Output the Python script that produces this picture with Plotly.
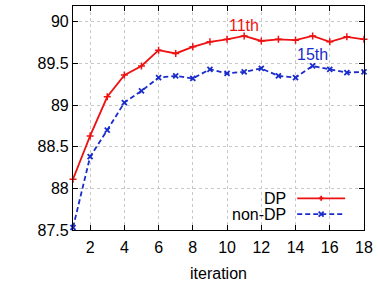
import plotly.graph_objects as go

iterations = list(range(1, 19))
dp = [88.11, 88.63, 89.10, 89.36, 89.47, 89.66, 89.62, 89.70, 89.76, 89.79,
      89.83, 89.77, 89.79, 89.78, 89.83, 89.76, 89.82, 89.79]
non_dp = [87.53, 88.38, 88.70, 89.03, 89.17, 89.33, 89.35, 89.32, 89.43, 89.38,
          89.40, 89.44, 89.35, 89.33, 89.47, 89.43, 89.39, 89.40]
x_ticks = list(range(2, 19, 2))
y_ticks = [87.5, 88, 88.5, 89, 89.5, 90]
y_tick_text = ["87.5", "88", "88.5", "89", "89.5", "90"]

RED = "#ee1111"
BLUE = "#1a2ccc"
FONT = "Liberation Sans, Arial, sans-serif"
FS = 16
DASH = "5px,3px"

fig = go.Figure()
fig.add_trace(go.Scatter(x=iterations, y=dp, mode="lines+markers", name="DP",
                         line=dict(color=RED, width=1.8),
                         marker=dict(symbol="cross-thin", size=5, line=dict(color=RED, width=1.5)),
                         showlegend=False, cliponaxis=False))
fig.add_trace(go.Scatter(x=iterations, y=non_dp, mode="lines+markers", name="non-DP",
                         line=dict(color=BLUE, width=1.8, dash=DASH),
                         marker=dict(symbol="x-thin", size=5, line=dict(color=BLUE, width=1.8)),
                         showlegend=False, cliponaxis=False))

axis_common = dict(showline=True, linecolor="black", linewidth=1.2, mirror="ticks",
                   ticks="inside", ticklen=5, tickcolor="black", tickwidth=1,
                   showgrid=True, gridcolor="#c8c8c8", griddash="dot", gridwidth=1,
                   zeroline=False, tickfont=dict(family=FONT, size=FS, color="black"))

fig.update_xaxes(range=[1, 18], tickvals=x_ticks, ticklabelstandoff=3, **axis_common,
                 title=dict(text="iteration", font=dict(family=FONT, size=FS, color="black"), standoff=12))
fig.update_yaxes(range=[87.5, 90.19], tickvals=y_ticks, ticktext=y_tick_text, **axis_common)

# point annotations
fig.add_annotation(x=11, y=89.95, text="11th", showarrow=False,
                   font=dict(family=FONT, size=FS, color=RED))
fig.add_annotation(x=15, y=89.61, text="15th", showarrow=False,
                   font=dict(family=FONT, size=FS, color=BLUE))

# clipped y-axis title (mostly outside the canvas)
fig.add_annotation(xref="paper", yref="paper", x=-0.243, y=0.58, xanchor="right",
                   text="F1 on the test set", textangle=-90, showarrow=False,
                   font=dict(family=FONT, size=FS, color="black"))

# custom gnuplot-style legend (text left, sample right)
def px_to_paper_x(px):
    return (px - 73) / (365 - 73)

def px_to_paper_y(py):
    return (231 - py) / (231 - 5)

legend_items = [("DP", RED, "solid", 199), ("non-DP", BLUE, DASH, 215)]
for label, color, dash, py in legend_items:
    fig.add_annotation(xref="paper", yref="paper", x=px_to_paper_x(289), y=px_to_paper_y(py),
                       xanchor="right", yanchor="middle", text=label, showarrow=False,
                       font=dict(family=FONT, size=FS, color="black"))
    fig.add_shape(type="line", xref="paper", yref="paper",
                  x0=px_to_paper_x(298), x1=px_to_paper_x(346),
                  y0=px_to_paper_y(py), y1=px_to_paper_y(py),
                  line=dict(color=color, width=1.8, dash=dash))
    cx, cy, r = 322, py, 2.5
    if label == "DP":
        segs = [((cx - r, cy), (cx + r, cy)), ((cx, cy - r), (cx, cy + r))]
    else:
        segs = [((cx - r, cy - r), (cx + r, cy + r)), ((cx - r, cy + r), (cx + r, cy - r))]
    for (ax_, ay_), (bx_, by_) in segs:
        fig.add_shape(type="line", xref="paper", yref="paper",
                      x0=px_to_paper_x(ax_), y0=px_to_paper_y(ay_),
                      x1=px_to_paper_x(bx_), y1=px_to_paper_y(by_),
                      line=dict(color=color, width=1.8))

fig.update_layout(width=378, height=284, margin=dict(l=73, r=13, t=5, b=53),
                  plot_bgcolor="white", paper_bgcolor="white", showlegend=False,
                  font=dict(family=FONT, size=FS, color="black"))

fig.write_html("out.html", config={"displayModeBar": False})
